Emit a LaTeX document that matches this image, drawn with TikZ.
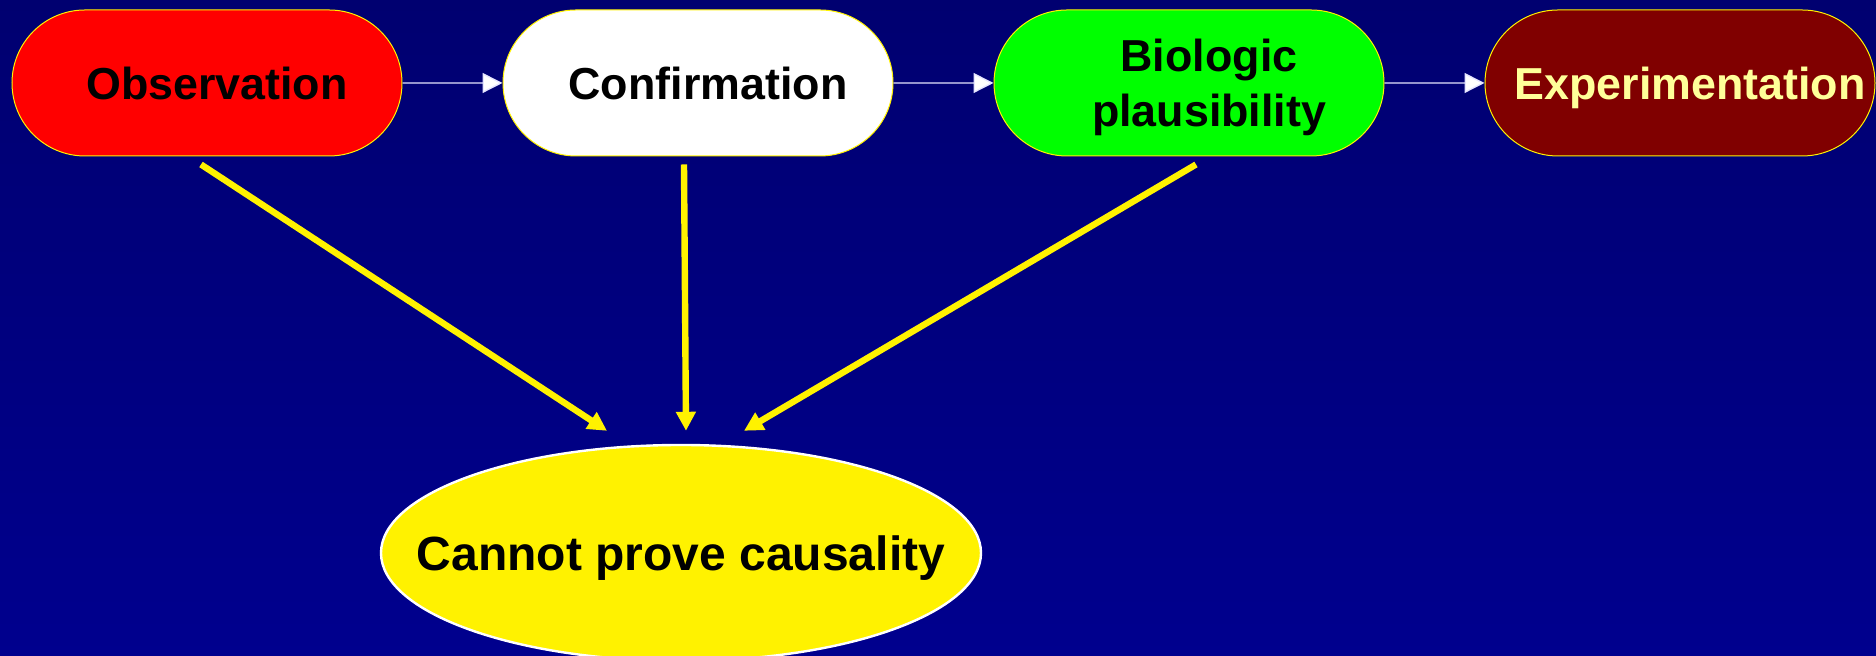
\documentclass[tikz,border=0pt]{standalone}
\usepackage{fontspec}
\setmainfont{Liberation Sans}
\usetikzlibrary{positioning}
\usetikzlibrary{shapes.misc}
\usetikzlibrary{shapes.geometric}
\usetikzlibrary{arrows.meta}
\definecolor{slidetop}{RGB}{0,0,112}
\definecolor{slidebottom}{RGB}{0,0,142}
\definecolor{darkred}{RGB}{128,0,0}
\definecolor{paleyellow}{RGB}{255,255,153}
\newcommand{\inset}{\hspace*{10pt}}

\begin{document}
\begin{tikzpicture}[x=1pt,y=1pt,
  stage/.style={rounded rectangle,draw=yellow,line width=0.5pt,minimum width=195pt,minimum height=73pt,inner sep=0pt,text depth=0pt,align=center,font=\fontsize{22.4}{27.5}\selectfont\bfseries},
  verdict/.style={ellipse,draw=white,line width=1.2pt,fill=yellow,minimum width=300pt,minimum height=108pt,inner sep=0pt,text depth=0pt,font=\fontsize{24}{28}\selectfont\bfseries},
  next/.style={draw=white!90!blue,line width=0.7pt,-{Triangle[length=10pt,width=10pt,fill=white]}},
  cause/.style={draw=yellow,line width=3.2pt,-{Triangle[length=9.5pt,width=9.5pt]}},
  node distance=50pt]

  \shade[top color=slidetop,bottom color=slidebottom] (0,0) rectangle (938,328);
  \useasboundingbox (0,0) rectangle (938,328);

  \node[stage,fill=red] (obs) at (103.5,286.5) {\inset Observation};
  \node[stage,fill=white,right=of obs] (conf) {\inset Confirmation};
  \node[stage,fill=green,right=of conf] (bio) {\inset\inset Biologic\\\inset\inset plausibility};
  \node[stage,fill=darkred,text=paleyellow,right=of bio] (exp) {\inset Experimentation};

  \node[verdict] (cp) at (340.5,51.5) {\makebox[0pt]{Cannot prove causality}};

  \draw[next] (obs) -- (conf);
  \draw[next] (conf) -- (bio);
  \draw[next] (bio) -- (exp);

  \draw[cause] ([shift={(-3pt,-4pt)}]obs.south) -- ([shift={(-37pt,6.5pt)}]cp.north);
  \draw[cause] ([shift={(-7pt,-4pt)}]conf.south) -- ([shift={(2.5pt,6.5pt)}]cp.north);
  \draw[cause] ([shift={(3.5pt,-4pt)}]bio.south) -- ([shift={(31.5pt,6.5pt)}]cp.north);
\end{tikzpicture}
\end{document}
